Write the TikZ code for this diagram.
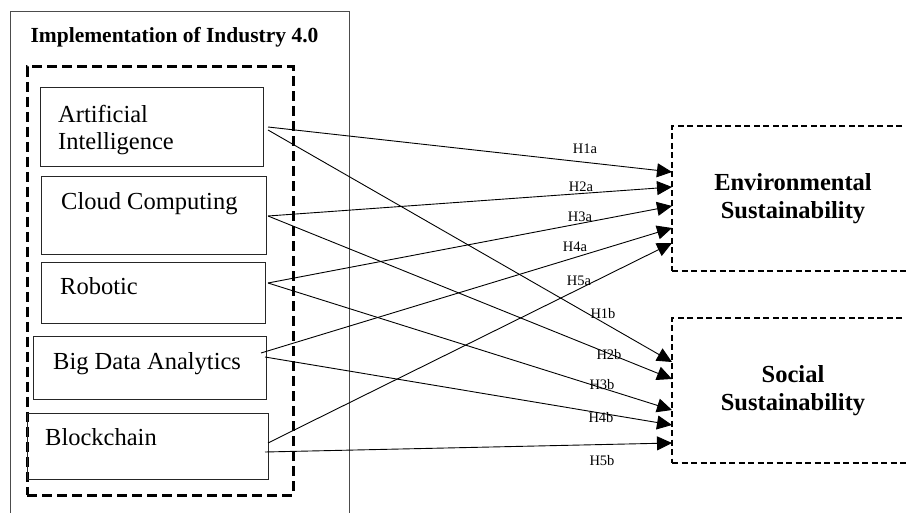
\documentclass[tikz,border=0pt]{standalone}
\usepackage{fontspec}
\setmainfont{Liberation Serif}
\usepackage{tikz}
\usetikzlibrary{
  arrows.meta,
  positioning,
  shapes.misc
}

\begin{document}
\begin{tikzpicture}[
      x=1pt,y=-1pt,
      frame/.style={
         rectangle,
         draw=black!70,
         line width=1pt,
         inner sep=0pt
      },
      group/.style={
         rectangle,
         draw=black,
         line width=3pt,
         dash pattern=on 10pt off 5pt,
         inner sep=0pt
      },
      itembox/.style={
         rectangle,
         draw=black!85,
         line width=1pt,
         inner sep=0pt
      },
      itemtext/.style={
         inner sep=0pt,
         align=left,
         font=\fontsize{24.5}{27}\selectfont
      },
      outcome/.style={
         rectangle,
         draw=black,
         line width=2pt,
         dash pattern=on 6pt off 3.5pt,
         inner sep=0pt,
         minimum width=242pt,
         minimum height=145pt,
         align=center,
         font=\bfseries\fontsize{24.5}{28.5}\selectfont
      },
      hypo/.style={
         inner sep=0pt,
         font=\fontsize{14.5}{16}\selectfont
      },
      tip/.style={-{Triangle[length=15pt,width=14pt]},line width=0.9pt,shorten >=0pt}
    ]
    \useasboundingbox (0,0) rectangle (906,513);
    \clip (0,0) rectangle (906,513);

    \node (frame) [frame, minimum width=339pt, minimum height=520pt] at (179.5,272) {};
    \node (title) [inner sep=0pt, anchor=base, font=\bfseries\fontsize{21.5}{24}\selectfont] at (174.5,43) {Implementation of Industry 4.0};
    \node (group) [group, minimum width=266pt, minimum height=428pt] at (160,281) {};

    \node (ai) [itembox, minimum width=223pt, minimum height=79pt] at (151.5,127.5) {};
    \node (cc) [itembox, minimum width=225pt, minimum height=78pt] at (153.5,216) {};
    \node (rb) [itembox, minimum width=224pt, minimum height=61pt] at (153,293.5) {};
    \node (bd) [itembox, minimum width=233pt, minimum height=62pt] at (149.5,368) {};
    \node (bc) [itembox, minimum width=241pt, minimum height=66pt] at (147.5,446) {};

    \node (ai-t) [itemtext, anchor=west] at (58,129.8) {Artificial\\Intelligence};
    \node (cc-t) [itemtext, anchor=base west] at (61,210) {Cloud Computing};
    \node (rb-t) [itemtext, anchor=base west] at (60,295) {Robotic};
    \node (bd-t) [itemtext, anchor=base west] at (53,370) {Big Data Analytics};
    \node (bc-t) [itemtext, anchor=base west] at (45,446) {Blockchain};

    \node (env) [outcome] at (793,198.5) {Environmental\\Sustainability};
    \node (soc) [outcome] at (793,390.5) {Social\\Sustainability};

    % start and end points of the paths
    \coordinate (ai1) at (268,127);
    \coordinate (ai2) at (268,130);
    \coordinate (cc1) at (268,216);
    \coordinate (rb1) at (268,283);
    \coordinate (bd1) at (261,353);
    \coordinate (bd2) at (265,357);
    \coordinate (bc1) at (268,443);
    \coordinate (bc2) at (265,452);

    \coordinate (env1) at (672,172);
    \coordinate (env2) at (672,187);
    \coordinate (env3) at (672,206);
    \coordinate (env4) at (672,228);
    \coordinate (env5) at (672,243);
    \coordinate (soc1) at (672,362);
    \coordinate (soc2) at (672,379);
    \coordinate (soc3) at (672,410);
    \coordinate (soc4) at (672,425);
    \coordinate (soc5) at (672,443);

    \foreach \from/\to in {ai1/env1, cc1/env2, rb1/env3, bd1/env4, bc1/env5,
                           ai2/soc1, cc1/soc2, rb1/soc3, bd2/soc4, bc2/soc5}
       \draw[tip] (\from) -- (\to);

    \node (h1a) [hypo] at (585,149) {H1a};
    \node (h2a) [hypo] at (581,187) {H2a};
    \node (h3a) [hypo] at (580,217) {H3a};
    \node (h4a) [hypo] at (575,247) {H4a};
    \node (h5a) [hypo] at (579,281) {H5a};
    \node (h1b) [hypo] at (603,314) {H1b};
    \node (h2b) [hypo] at (609,355) {H2b};
    \node (h3b) [hypo] at (602,385) {H3b};
    \node (h4b) [hypo] at (601,418) {H4b};
    \node (h5b) [hypo] at (602,461) {H5b};
\end{tikzpicture}
\end{document}
